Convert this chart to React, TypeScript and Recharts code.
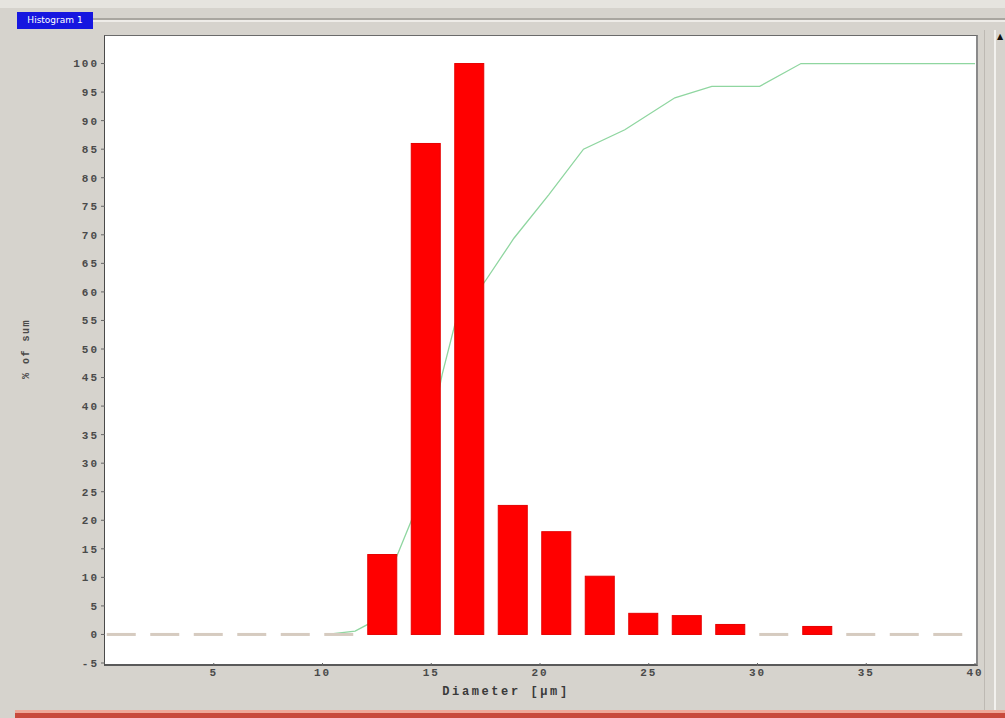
import React from "react";
import {
  ComposedChart,
  Bar,
  Line,
  XAxis,
  YAxis,
} from "recharts";

// bin centres in µm (2 µm wide bins)
const binCentres = [
  0.75, 2.75, 4.75, 6.75, 8.75, 10.75, 12.75, 14.75, 16.75, 18.75,
  20.75, 22.75, 24.75, 26.75, 28.75, 30.75, 32.75, 34.75, 36.75, 38.75,
];
// relative frequency per bin, tallest bin = 100
const binShare = [
  0, 0, 0, 0, 0, 0, 14, 86, 100, 22.6,
  18, 10.2, 3.7, 3.3, 1.75, 0, 1.4, 0, 0, 0,
];

// cumulative curve (% of sum)
const cumDiameter = [10.2, 11.5, 12.1, 13.5, 14.2, 15.5, 16.1, 17.5, 18.8, 20.4, 22.0, 23.9, 26.2, 27.9, 30.1, 32.0, 40];
const cumShare = [0, 0.6, 1.8, 14.5, 21, 45.5, 54.5, 62, 69.4, 77, 85, 88.4, 94, 96, 96, 100, 100];

const xTicks = [5, 10, 15, 20, 25, 30, 35, 40];
const yTicks = [-5, 0, 5, 10, 15, 20, 25, 30, 35, 40, 45, 50, 55, 60, 65, 70, 75, 80, 85, 90, 95, 100];

const bars = binCentres.map((d, i) => ({ d, share: binShare[i] }));
const curve = cumDiameter.map((d, i) => ({ d, cum: cumShare[i] }));

const BAR_W = 29;
const MONO = "Liberation Mono, DejaVu Sans Mono, monospace";
const tickFont = { fontFamily: MONO, fontSize: 11, fontWeight: 700, fill: "#4a4a4a", letterSpacing: 2 };

// fixed-width bars centred on the bin; empty bins become a flat dash on the baseline
const BinShape = (p: any) => {
  const { x, y, width, height, payload } = p;
  const left = x + width / 2 - BAR_W / 2;
  if (!payload || !payload.share) {
    return <rect x={left} y={y - 1.5} width={BAR_W} height={3} fill="#d6cbc0" />;
  }
  return <rect x={left} y={y} width={BAR_W} height={height} fill="#ff0000" stroke="#e60000" strokeWidth={1} />;
};

export default function App() {
  return (
    <div
      style={{
        position: "fixed",
        left: 0,
        top: 0,
        width: 1005,
        height: 718,
        background: "#d6d3cd",
        overflow: "hidden",
      }}
    >
      {/* window chrome */}
      <div style={{ position: "absolute", left: 0, top: 0, width: 1005, height: 8, background: "#e6e4df" }} />
      <div style={{ position: "absolute", left: 93, top: 18, width: 912, height: 2, background: "#a9a6a0" }} />
      <div style={{ position: "absolute", left: 93, top: 20, width: 912, height: 2, background: "#eeece8" }} />
      <div
        style={{
          position: "absolute",
          left: 17,
          top: 12,
          width: 76,
          height: 17,
          background: "#1616e0",
          color: "#ffffff",
          fontFamily: "DejaVu Sans, sans-serif",
          fontSize: 9,
          lineHeight: "17px",
          textAlign: "center",
        }}
      >
        Histogram 1
      </div>
      <div style={{ position: "absolute", left: 984, top: 30, width: 1, height: 680, background: "#bdb9b3" }} />
      <div style={{ position: "absolute", left: 994, top: 30, width: 2, height: 680, background: "#f2f1ee" }} />
      <div
        style={{
          position: "absolute",
          left: 997,
          top: 32,
          fontSize: 8,
          color: "#111",
          fontFamily: "DejaVu Sans, sans-serif",
        }}
      >
        ▲
      </div>
      <div style={{ position: "absolute", left: 15, top: 710, width: 990, height: 3, background: "#eea898" }} />
      <div style={{ position: "absolute", left: 15, top: 713, width: 990, height: 5, background: "#c84a3c" }} />

      {/* plot frame */}
      <div
        style={{
          position: "absolute",
          left: 104,
          top: 35,
          width: 871,
          height: 628,
          background: "#ffffff",
          borderTop: "1px solid #6a6a6a",
          borderLeft: "1px solid #4a4a4a",
          borderRight: "2px solid #8a8a8a",
          borderBottom: "2px solid #5a5a5a",
        }}
      />

      <div style={{ position: "absolute", left: 0, top: 0 }}>
        <ComposedChart
          width={1005}
          height={718}
          data={bars}
          margin={{ top: 35, right: 30, bottom: 0, left: 45 }}
        >
          <XAxis
            dataKey="d"
            type="number"
            domain={[0, 40]}
            ticks={xTicks}
            height={55}
            axisLine={false}
            tickLine={{ stroke: "#666" }}
            tickSize={3}
            tick={tickFont}
            allowDataOverflow
            label={{
              value: "Diameter [µm]",
              position: "insideBottom",
              offset: 23,
              dx: -34,
              style: { fontFamily: MONO, fontSize: 12, fontWeight: 700, fill: "#3a3a3a", letterSpacing: 2.6 },
            }}
          />
          <YAxis
            type="number"
            domain={[-5, 105]}
            ticks={yTicks}
            width={60}
            axisLine={false}
            tickLine={{ stroke: "#666" }}
            tickSize={4}
            tick={tickFont}
            allowDataOverflow
            label={{
              value: "% of sum",
              angle: -90,
              position: "insideLeft",
              dx: -25,
              style: { fontFamily: MONO, fontSize: 10, fontWeight: 700, fill: "#4a4a4a", letterSpacing: 1.5, textAnchor: "middle" },
            }}
          />
          {/* curve sits underneath the bars */}
          <Line
            data={curve}
            dataKey="cum"
            type="linear"
            stroke="#8fd6a0"
            strokeWidth={1.3}
            dot={false}
            activeDot={false}
            isAnimationActive={false}
            zIndex={250}
          />
          <Bar dataKey="share" barSize={29} shape={BinShape} isAnimationActive={false} zIndex={300} />
        </ComposedChart>
      </div>
    </div>
  );
}
